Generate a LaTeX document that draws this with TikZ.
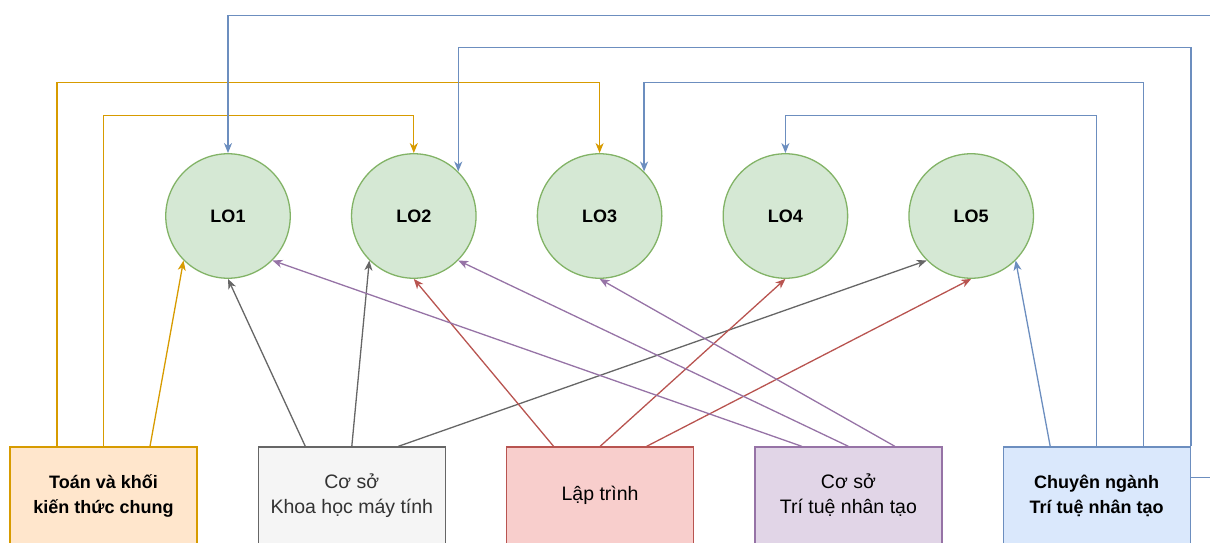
\documentclass[tikz,border=0pt]{standalone}
\usepackage{fontspec}
\setmainfont{Liberation Sans}
\usetikzlibrary{positioning}
\usetikzlibrary{arrows.meta}

\definecolor{loFill}{HTML}{D5E8D4}
\definecolor{loLine}{HTML}{82B366}
\definecolor{tkFill}{HTML}{FFE6CC}
\definecolor{tkLine}{HTML}{D79B00}
\definecolor{csFill}{HTML}{F5F5F5}
\definecolor{csLine}{HTML}{666666}
\definecolor{ltFill}{HTML}{F8CECC}
\definecolor{ltLine}{HTML}{B85450}
\definecolor{aiFill}{HTML}{E1D5E7}
\definecolor{aiLine}{HTML}{9673A6}
\definecolor{cnFill}{HTML}{DAE8FC}
\definecolor{cnLine}{HTML}{6C8EBF}

\begin{document}
\begin{tikzpicture}[
            x = 1pt, y = -1pt, % pixel grid, y goes down
            > = {Stealth[length=10pt,width=8pt,inset=3pt]}, % arrow head style
            line width = 1.3pt,
            node distance = 60pt, % gap between nodes
            lo/.style = {circle, draw = loLine, fill = loFill,
                minimum size = 124.5pt, inner sep = 0pt,
                font = \fontsize{18}{22}\selectfont\bfseries},
            group/.style = {rectangle, minimum width = 187pt,
                minimum height = 97pt, inner sep = 0pt, align = center,
                font = \fontsize{19.5}{25}\selectfont}
        ]

        \useasboundingbox (0,0) rectangle (1210,543);
        \clip (0,0) rectangle (1210,543);

	% learning outcomes
        \node[lo] (LO1) at (228,216) {LO1};
        \node[lo] (LO2) [right=of LO1] {LO2};
        \node[lo] (LO3) [right=of LO2] {LO3};
        \node[lo] (LO4) [right=of LO3] {LO4};
        \node[lo] (LO5) [right=of LO4] {LO5};

	% course groups
        \node[group, draw=tkLine, fill=tkFill,
            font=\fontsize{18}{25}\selectfont\bfseries] (TK) at (103.5,495.5)
            {Toán và khối\\kiến thức chung};
        \node[group, draw=csLine, fill=csFill, text=black!80] (CS) [right=of TK]
            {Cơ sở\\Khoa học máy tính};
        \node[group, draw=ltLine, fill=ltFill] (LT) [right=of CS] {Lập trình};
        \node[group, draw=aiLine, fill=aiFill] (AI) [right=of LT]
            {Cơ sở\\Trí tuệ nhân tạo};
        \node[group, draw=cnLine, fill=cnFill,
            font=\fontsize{18}{25}\selectfont\bfseries] (CN) [right=of AI]
            {Chuyên ngành\\Trí tuệ nhân tạo};

	% toan
        \draw[->, tkLine] ([xshift=-46.5pt]TK.north) -- ++(0,-364) -| (LO3.north);
        \draw[->, tkLine] (TK.north) -- ++(0,-331) -| (LO2.north);
        \path[->, color=tkLine] ([xshift=46.5pt]TK.north) edge (LO1.south west);

	% co so khmt
        \path[->, color=csLine] ([xshift=-46.5pt]CS.north) edge (LO1.south);
        \path[->, color=csLine] (CS.north) edge (LO2.south west);
        \path[->, color=csLine] ([xshift=46.5pt]CS.north) edge (LO5.south west);

	% lap trinh
        \path[->, color=ltLine] ([xshift=-46.5pt]LT.north) edge (LO2.south);
        \path[->, color=ltLine] (LT.north) edge (LO4.south);
        \path[->, color=ltLine] ([xshift=46.5pt]LT.north) edge (LO5.south);

	% co so ttnt
        \path[->, color=aiLine] ([xshift=-46.5pt]AI.north) edge (LO1.south east);
        \path[->, color=aiLine] (AI.north) edge (LO2.south east);
        \path[->, color=aiLine] ([xshift=46.5pt]AI.north) edge (LO3.south);

	% chuyen nganh
        \path[->, color=cnLine] ([xshift=-46.5pt]CN.north) edge (LO5.south east);
        \draw[->, cnLine] (CN.north) -- ++(0,-331) -| (LO4.north);
        \draw[->, cnLine] ([xshift=46.5pt]CN.north) -- ++(0,-364) -| (LO3.north east);
        \draw[->, cnLine] (CN.north east) -- ++(0,-399) -| (LO2.north east);
        \draw[->, cnLine] ([yshift=-31pt]CN.north east) -- ++(40,0)
            -- ++(0,-462) -| (LO1.north);

  \end{tikzpicture}
\end{document}
